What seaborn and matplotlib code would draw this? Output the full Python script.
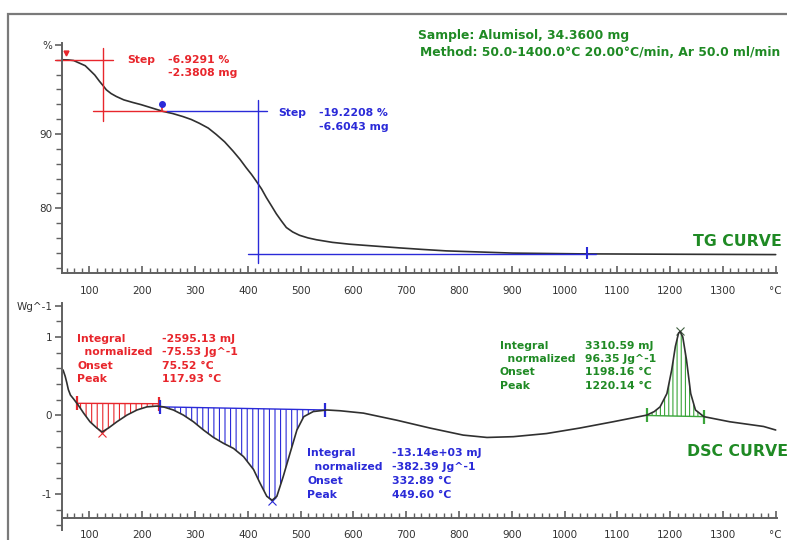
import numpy as np
import pandas as pd
import matplotlib
matplotlib.use("Agg")
import matplotlib.pyplot as plt
import seaborn as sns
from matplotlib.patches import Rectangle
from matplotlib.ticker import FixedLocator, MultipleLocator

# TG curve: temperature in °C, mass in %
tgTemp = [50, 60, 70, 81, 92, 100, 110, 119, 126, 132, 141, 151, 165, 182, 198,
          214, 239, 258, 277, 293, 308, 325, 340, 356, 372, 385, 397, 407, 416,
          426, 435, 445, 454, 464, 473, 485, 498, 514, 530, 560, 593, 640, 688,
          730, 776, 840, 902, 965, 1029, 1200, 1400]
tgMass = [100.0, 99.98, 99.9, 99.55, 99.2, 98.65, 97.95, 97.1, 96.5, 95.95,
          95.45, 95.05, 94.6, 94.25, 93.95, 93.6, 93.05, 92.75, 92.35, 91.95,
          91.45, 90.8, 89.95, 88.95, 87.7, 86.6, 85.45, 84.55, 83.65, 82.6,
          81.45, 80.3, 79.25, 78.25, 77.4, 76.8, 76.35, 76.0, 75.75, 75.4,
          75.15, 74.9, 74.65, 74.45, 74.25, 74.1, 73.95, 73.9, 73.85, 73.8, 73.75]

# DSC curve: temperature in °C, heat flow in W/g
dscTemp = [50, 54, 57, 60, 64, 70, 79, 89, 101, 114, 124, 136, 152, 171, 190,
           209, 228, 240, 259, 278, 297, 316, 335, 354, 373, 392, 411, 423, 436,
           446, 455, 467, 480, 493, 506, 524, 550, 575, 619, 682, 745, 808, 853,
           903, 966, 1029, 1092, 1156, 1170, 1181, 1194, 1203, 1210, 1216, 1219,
           1224, 1231, 1239, 1248, 1264, 1313, 1377, 1400]
dscHeat = [0.58, 0.50, 0.42, 0.33, 0.26, 0.21, 0.13, 0.03, -0.08, -0.16, -0.21,
           -0.16, -0.08, 0.005, 0.07, 0.11, 0.12, 0.11, 0.07, 0.005, -0.08,
           -0.185, -0.28, -0.355, -0.42, -0.525, -0.69, -0.86, -1.03, -1.08,
           -1.03, -0.78, -0.48, -0.185, -0.015, 0.05, 0.07, 0.06, 0.03, -0.06,
           -0.16, -0.25, -0.28, -0.27, -0.23, -0.16, -0.08, 0.005, 0.05, 0.11,
           0.28, 0.58, 0.88, 1.05, 1.07, 1.0, 0.71, 0.28, 0.07, -0.015, -0.08,
           -0.14, -0.185]

xTicks = list(range(100, 1401, 100))
xLabels = [str(t) for t in range(100, 1301, 100)] + ["°C"]
tgTicks = [80, 90, 102]
tgLabels = ["80", "90", "%"]
dscTicks = [-1, 0, 1, 1.4]
dscLabels = ["-1", "0", "1", "Wg^-1"]

# TG step evaluations: levels and the temperature of the vertical marker
stepLevels = [100.0, 93.07, 73.85]
stepTemps = [126.5, 418.5]
stepTexts = [("-6.9291 %", "-2.3808 mg"), ("-19.2208 %", "-6.6043 mg")]
tgMarkTemp = [55, 237, 1042]
tgMarkVal = [100.9, 94.0, 73.9]

# DSC peak integrations: window limits, baseline values, peak position
peakStart = [77, 234, 1156]
peakEnd = [231, 547, 1264]
baseStart = [0.155, 0.11, 0.0]
baseEnd = [0.15, 0.07, -0.015]
peakTemp = [123, 446, 1219]
peakVal = [-0.22, -1.09, 1.07]
peakTexts = [
    ("-2595.13 mJ", "-75.53 Jg^-1", "75.52 °C", "117.93 °C"),
    ("-13.14e+03 mJ", "-382.39 Jg^-1", "332.89 °C", "449.60 °C"),
    ("3310.59 mJ", "96.35 Jg^-1", "1198.16 °C", "1220.14 °C"),
]

RED = "#e8262c"
BLUE = "#2a2ad8"
GREEN = "#1f8a24"
HATCH_GREEN = "#3aa53a"
AXIS = "#606060"
peakColors = [RED, BLUE, HATCH_GREEN]
textColors = [RED, BLUE, GREEN]

sns.set_style("ticks")
plt.rcParams["font.family"] = ["DejaVu Sans"]
plt.rcParams["hatch.linewidth"] = 0.8

W, H = 787, 540
fig = plt.figure(figsize=(W / 100, H / 100), dpi=100)


def fx(x):
    return x / W


def fy(y):
    return 1 - y / H


def styleAxis(ax):
    for side in ["top", "right"]:
        ax.spines[side].set_visible(False)
    for side in ["left", "bottom"]:
        ax.spines[side].set_color(AXIS)
        ax.spines[side].set_linewidth(1.4)
    ax.set_xlim(48, 1402.5)
    ax.set_xticks(xTicks)
    ax.set_xticklabels(xLabels)
    ax.xaxis.set_minor_locator(MultipleLocator(100 / 7))
    ax.tick_params(axis="x", which="both", direction="in", color=AXIS,
                   labelsize=7.5, labelcolor="#333333", pad=9)
    ax.tick_params(axis="x", which="major", length=5, width=1.2)
    ax.tick_params(axis="x", which="minor", length=3.5, width=1.0)
    ax.tick_params(axis="y", which="both", direction="out", color=AXIS,
                   labelsize=7.5, labelcolor="#333333", pad=2)
    ax.tick_params(axis="y", which="major", length=5, width=1.2)
    ax.tick_params(axis="y", which="minor", length=4, width=1.0)
    ax.set_xlabel("")
    ax.set_ylabel("")
    ax.patch.set_alpha(0)


# ---- TG panel ----
axTg = fig.add_axes([fx(62), fy(273), (777 - 62) / W, (273 - 43) / H])
tgDf = pd.DataFrame({"temp": tgTemp, "mass": tgMass})
sns.lineplot(data=tgDf, x="temp", y="mass", ax=axTg, color="#303030",
             linewidth=1.2, estimator=None, sort=False)
axTg.set_ylim(71.27, 102.26)
axTg.set_yticks(tgTicks)
axTg.set_yticklabels(tgLabels)
axTg.yaxis.set_minor_locator(MultipleLocator(2))
styleAxis(axTg)

lineKw = dict(linewidth=1.0, clip_on=False)
# step 1 (red)
axTg.plot([34, 144], [stepLevels[0]] * 2, color=RED, **lineKw)
axTg.plot([stepTemps[0]] * 2, [101.6, 91.8], color=RED, **lineKw)
axTg.plot([106, 246], [stepLevels[1]] * 2, color=RED, **lineKw)
# step 2 (blue)
axTg.plot([246, 437], [stepLevels[1]] * 2, color=BLUE, **lineKw)
axTg.plot([stepTemps[1]] * 2, [94.6, 72.6], color=BLUE, **lineKw)
axTg.plot([400, 1060], [stepLevels[2]] * 2, color=BLUE, **lineKw)
axTg.plot(tgMarkTemp[0], tgMarkVal[0], marker="v", ms=3.5, color=RED, clip_on=False)
axTg.plot(tgMarkTemp[1], tgMarkVal[1] - 0.5, marker="|", ms=6, mew=1.2, color=RED)
axTg.plot(tgMarkTemp[1], tgMarkVal[1], marker="o", ms=4, color=BLUE)
axTg.plot(tgMarkTemp[2], tgMarkVal[2], marker="|", ms=8, mew=1.5, color=BLUE)

bold = dict(fontsize=7.8, fontweight="bold", va="center", ha="left")
fig.text(fx(127), fy(60), "Step", color=RED, **bold)
fig.text(fx(168), fy(60), stepTexts[0][0], color=RED, **bold)
fig.text(fx(168), fy(73), stepTexts[0][1], color=RED, **bold)
fig.text(fx(278), fy(113), "Step", color=BLUE, **bold)
fig.text(fx(319), fy(113), stepTexts[1][0], color=BLUE, **bold)
fig.text(fx(319), fy(127), stepTexts[1][1], color=BLUE, **bold)

fig.text(fx(418), fy(35), "Sample: Alumisol, 34.3600 mg", color=GREEN,
         fontsize=8.9, fontweight="bold", va="center", ha="left")
fig.text(fx(420), fy(53), "Method: 50.0-1400.0°C 20.00°C/min, Ar 50.0 ml/min",
         color=GREEN, fontsize=8.9, fontweight="bold", va="center", ha="left")
fig.text(fx(693), fy(242), "TG CURVE", color=GREEN, fontsize=11.3,
         fontweight="bold", va="center", ha="left")

# ---- DSC panel ----
axDsc = fig.add_axes([fx(62), fy(530), (777 - 62) / W, (530 - 303) / H])
dscDf = pd.DataFrame({"temp": dscTemp, "heat": dscHeat})
axDsc.set_ylim(-1.459, 1.433)
tArr = np.array(dscTemp, dtype=float)
vArr = np.array(dscHeat, dtype=float)
for i in range(3):
    a, b = peakStart[i], peakEnd[i]
    inside = tArr[(tArr > a) & (tArr < b)]
    xs = np.concatenate([[a], inside, [b]])
    curve = np.interp(xs, tArr, vArr)
    base = np.interp(xs, [a, b], [baseStart[i], baseEnd[i]])
    hatch = "||||" if i == 2 else "|||"
    axDsc.fill_between(xs, base, curve, facecolor="none",
                       edgecolor=peakColors[i], hatch=hatch, linewidth=0)
    axDsc.plot([a, b], [baseStart[i], baseEnd[i]], color=peakColors[i], lw=1.0)
    axDsc.plot([a, b], [baseStart[i], baseEnd[i]], linestyle="none",
               marker="|", ms=10, mew=1.6, color=peakColors[i])
    axDsc.plot(peakTemp[i], peakVal[i], marker="x", ms=6, mew=0.8,
               color=peakColors[i] if i < 2 else "#406040")

sns.lineplot(data=dscDf, x="temp", y="heat", ax=axDsc, color="#303030",
             linewidth=1.2, estimator=None, sort=False)
axDsc.set_ylim(-1.459, 1.433)
axDsc.set_yticks(dscTicks)
axDsc.set_yticklabels(dscLabels)
axDsc.yaxis.set_minor_locator(FixedLocator(np.arange(-7, 8) * 0.2))
styleAxis(axDsc)
axDsc.spines["bottom"].set_position(("data", -1.3))

names = ["Integral", "  normalized", "Onset", "Peak"]
blocks = [(77, 162, [339, 352, 366, 379]),
          (307, 392, [453, 467, 481, 495]),
          (500, 585, [346, 359, 372, 386])]
for i, (xl, xv, ys) in enumerate(blocks):
    for j in range(4):
        fig.text(fx(xl), fy(ys[j]), names[j], color=textColors[i], **bold)
        fig.text(fx(xv), fy(ys[j]), peakTexts[i][j], color=textColors[i], **bold)

fig.text(fx(687), fy(452), "DSC CURVE", color=GREEN, fontsize=11.3,
         fontweight="bold", va="center", ha="left")

# outer frame of the report
fig.add_artist(Rectangle((fx(8), -0.1), 1.2, fy(14) + 0.1,
                         transform=fig.transFigure, fill=False,
                         edgecolor="#7a7a7a", linewidth=1.6, clip_on=False))

fig.savefig("out.png", dpi=100)
